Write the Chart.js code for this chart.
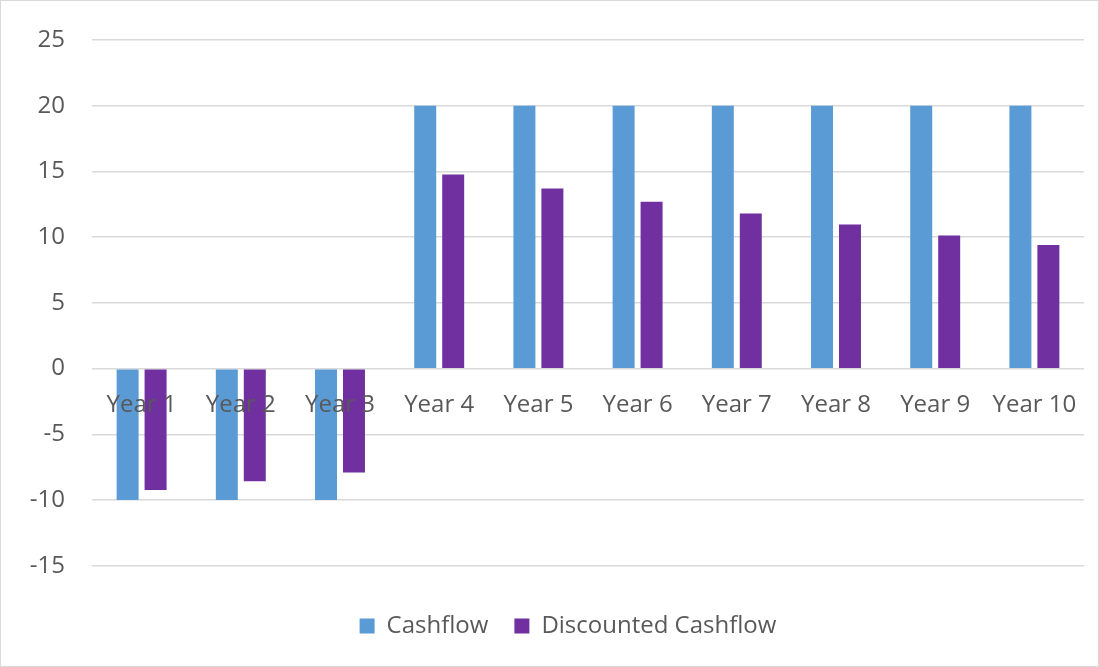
<!DOCTYPE html>
<html>
<head>
<meta charset="utf-8">
<script src="https://cdn.jsdelivr.net/npm/chart.js@4/dist/chart.umd.min.js"></script>
<style>
  html, body { margin: 0; padding: 0; background: #fff; }
  #wrap { position: relative; width: 1097px; height: 665px; border: 1px solid #d9d9d9; }
</style>
</head>
<body>
<div id="wrap"><canvas id="cashChart"></canvas></div>
<script>
// chart data
var years = ['Year 1', 'Year 2', 'Year 3', 'Year 4', 'Year 5', 'Year 6', 'Year 7', 'Year 8', 'Year 9', 'Year 10'];
var cashflow = [-10, -10, -10, 20, 20, 20, 20, 20, 20, 20];
var discounted = [-9.23, -8.57, -7.91, 14.76, 13.7, 12.7, 11.8, 10.96, 10.12, 9.41];
var yMin = -15, yMax = 25, yStep = 5;

var font = "'Open Sans', 'Noto Sans', sans-serif";
var textColor = '#595959';

// nudge legend a bit to the right, like the excel one
var legendShift = {
  id: 'legendShift',
  afterLayout: function (chart) {
    chart.legend.left += 22;
  }
};

var ctx = document.getElementById('cashChart').getContext('2d');
var chart = new Chart(ctx, {
  type: 'bar',
  data: {
    labels: years,
    datasets: [{
      label: 'Cashflow',
      data: cashflow,
      backgroundColor: '#5b9bd5',
      categoryPercentage: 0.564,
      barPercentage: 0.786
    }, {
      label: 'Discounted Cashflow',
      data: discounted,
      backgroundColor: '#7030a0',
      categoryPercentage: 0.564,
      barPercentage: 0.786
    }]
  },
  plugins: [legendShift],
  options: {
    responsive: true,
    maintainAspectRatio: false,
    animation: false,
    layout: { padding: { top: 39, right: 14, left: 29, bottom: 18 } },
    plugins: {
      tooltip: { enabled: false },
      legend: {
        position: 'bottom',
        // empty title only adds space above the legend row
        title: { display: true, text: '', font: { size: 1 }, padding: { top: 0, bottom: 21 } },
        labels: {
          font: { family: font, size: 24 },
          color: textColor,
          boxWidth: 15,
          boxHeight: 15,
          padding: 26
        }
      }
    },
    scales: {
      x: {
        position: { y: 0 },
        grid: { display: false },
        border: { display: false },
        ticks: {
          z: 1,
          font: { family: font, size: 24 },
          color: textColor,
          padding: 14,
          maxRotation: 0
        }
      },
      y: {
        min: yMin,
        max: yMax,
        afterFit: function (scale) {
          scale.width = 62;
          scale.paddingTop = 0;
          scale.paddingBottom = 0;
        },
        ticks: {
          stepSize: yStep,
          font: { family: font, size: 24 },
          color: textColor,
          padding: 27
        },
        grid: { color: '#d9d9d9', lineWidth: 1.5, drawTicks: false },
        border: { display: false }
      }
    }
  }
});
</script>
</body>
</html>
